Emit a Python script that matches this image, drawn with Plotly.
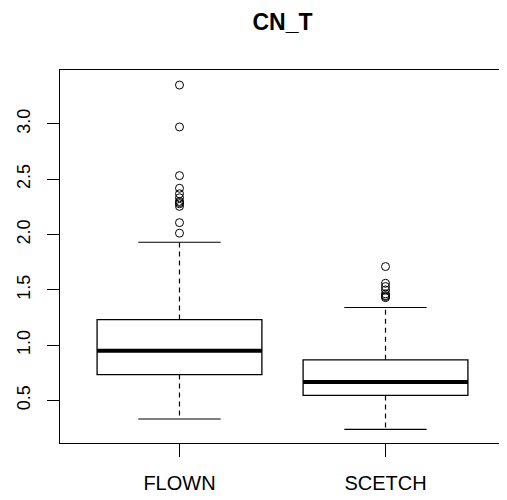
import plotly.graph_objs as go

categories = ["FLOWN", "SCETCH"]
q1 = [0.735, 0.546]
median = [0.949, 0.667]
q3 = [1.232, 0.868]
lower_whisker = [0.333, 0.239]
upper_whisker = [1.931, 1.341]
outliers = [
    [2.013, 2.108, 2.255, 2.279, 2.29, 2.30, 2.333, 2.369, 2.419, 2.533, 2.973, 3.352],
    [1.43, 1.44, 1.449, 1.464, 1.50, 1.53, 1.56, 1.711],
]
y_ticks = [0.5, 1.0, 1.5, 2.0, 2.5, 3.0]

FONT = "Liberation Sans, Arial, sans-serif"
BOX_W = 0.8
STAPLE = 0.2
# the page body adds an 8px margin, so the figure is shrunk by that much
PAGE_PAD = 8

fig = go.Figure()

for i, name in enumerate(categories):
    pos = i + 1
    # box only (fences = quartiles so plotly draws no whiskers of its own)
    fig.add_trace(go.Box(
        x=[pos], q1=[q1[i]], median=[median[i]], q3=[q3[i]],
        lowerfence=[q1[i]], upperfence=[q3[i]],
        width=BOX_W, fillcolor="white",
        line=dict(color="black", width=1.3),
        showlegend=False, hoverinfo="skip",
    ))
    # dashed whiskers
    fig.add_trace(go.Scatter(
        x=[pos, pos, None, pos, pos],
        y=[q3[i], upper_whisker[i], None, q1[i], lower_whisker[i]],
        mode="lines", line=dict(color="black", width=1.2, dash="5px,4px"),
        showlegend=False, hoverinfo="skip",
    ))
    # staples
    fig.add_trace(go.Scatter(
        x=[pos - STAPLE, pos + STAPLE, None, pos - STAPLE, pos + STAPLE],
        y=[upper_whisker[i], upper_whisker[i], None, lower_whisker[i], lower_whisker[i]],
        mode="lines", line=dict(color="black", width=1.2),
        showlegend=False, hoverinfo="skip",
    ))
    # thick median
    fig.add_trace(go.Scatter(
        x=[pos - BOX_W / 2, pos + BOX_W / 2],
        y=[median[i], median[i]],
        mode="lines", line=dict(color="black", width=4),
        showlegend=False, hoverinfo="skip",
    ))
    # outliers
    fig.add_trace(go.Scatter(
        x=[pos] * len(outliers[i]), y=outliers[i],
        mode="markers",
        marker=dict(symbol="circle-open", size=8, color="black", line=dict(width=1)),
        showlegend=False, hoverinfo="skip",
    ))

W, H = 507 - PAGE_PAD, 500 - PAGE_PAD
fig.update_layout(
    width=W, height=H,
    margin=dict(l=60 - PAGE_PAD, r=2, t=70 - PAGE_PAD, b=57),
    paper_bgcolor="white", plot_bgcolor="white",
    font=dict(family=FONT, color="black"),
    title=dict(text="<b>CN_T</b>", x=(282.5 - PAGE_PAD) / W, xanchor="center",
               y=1 - (22 - PAGE_PAD) / H, yref="container", yanchor="middle",
               font=dict(size=23, family=FONT, color="black")),
    xaxis=dict(range=[0.42, 2.58], tickvals=[1, 2], ticktext=categories,
               ticks="outside", ticklen=13, tickcolor="black",
               showline=True, linecolor="black", linewidth=1, mirror=True,
               showgrid=False, zeroline=False,
               tickfont=dict(size=20), ticklabelstandoff=9),
    yaxis=dict(range=[0.116, 3.488], tickvals=y_ticks, tickformat=".1f",
               tickangle=-90, ticks="outside", ticklen=12, tickcolor="black",
               showline=True, linecolor="black", linewidth=1, mirror=True,
               showgrid=False, zeroline=False,
               tickfont=dict(size=18), ticklabelstandoff=10),
)

fig.write_html("out.html")
